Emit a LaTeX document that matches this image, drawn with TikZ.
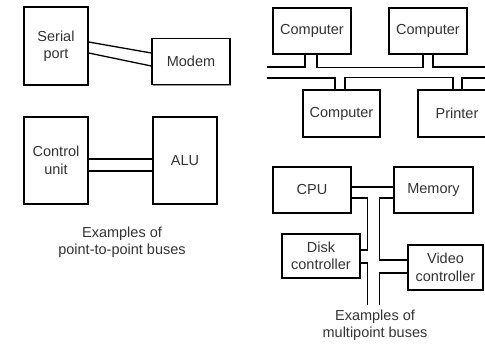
\documentclass[tikz,border=0pt]{standalone}
\usepackage{fontspec}
\setmainfont{Liberation Sans}
\usetikzlibrary{shadows}
\begin{document}
\begin{tikzpicture}[x=1pt,y=-1pt,
  unit/.style={draw=black,line width=1.4pt,fill=white,inner sep=0pt,align=center,
    font=\fontsize{14.5}{17.5}\selectfont,text=black!80,
    drop shadow={shadow xshift=1.3pt,shadow yshift=-1.3pt,fill=black!40,opacity=1}},
  bus/.style={line width=1.3pt,draw=black},
  captext/.style={align=center,font=\fontsize{14.5}{17.5}\selectfont,text=black!80}]
\useasboundingbox (0,0) rectangle (485,346);
\clip (0,0) rectangle (485,346);
% point-to-point
\node[unit,minimum width=64pt,minimum height=78pt] (ser) at (56,46) {Serial\\port};
\node[unit,minimum width=78pt,minimum height=46pt] (mod) at (191,61.5) {Modem};
\node[unit,minimum width=64pt,minimum height=87pt] (cu) at (56,160.5) {Control\\unit};
\node[unit,minimum width=64pt,minimum height=87pt] (alu) at (185,160.5) {ALU};
\draw[bus] ([yshift=4pt]ser.east) -- ([yshift=8.5pt]mod.west);
\draw[bus] ([yshift=-7pt]ser.east) -- ([yshift=-4.5pt]mod.west);
\draw[bus] ([yshift=1.5pt]cu.east) -- ([yshift=1.5pt]alu.west);
\draw[bus] ([yshift=-10.5pt]cu.east) -- ([yshift=-10.5pt]alu.west);
\node[captext] (capA) at (122,242) {Examples of\\point-to-point buses};
% multipoint, computers
\node[unit,minimum width=78pt,minimum height=46pt] (c1) at (312,31) {Computer};
\node[unit,minimum width=78pt,minimum height=46pt] (c2) at (428,31) {Computer};
\node[unit,minimum width=77pt,minimum height=47pt] (c3) at (341.5,113.5) {Computer};
\node[unit,minimum width=78pt,minimum height=47pt] (pr) at (457,113.5) {Printer};
\coordinate (busAl) at (267,67);
\coordinate (busAr) at (495,67);
\coordinate (busBl) at (267,78);
\coordinate (busBr) at (495,78);
\draw[bus] (busAl) -| ([xshift=-7pt]c1.south);
\draw[bus] ([xshift=5pt]c1.south) -- ++(0,13) -| ([xshift=-5pt]c2.south);
\draw[bus] ([xshift=5pt]c2.south) |- (busAr);
\draw[bus] (busBl) -| ([xshift=-6.5pt]c3.north);
\draw[bus] ([xshift=3.5pt]c3.north) -- ++(0,-12) -| ([xshift=-4pt]pr.north);
\draw[bus] ([xshift=5pt]pr.north) |- (busBr);
% multipoint, system bus
\node[unit,minimum width=78pt,minimum height=46pt] (cpu) at (312,190) {CPU};
\node[unit,minimum width=79pt,minimum height=46pt] (mem) at (433.5,190) {Memory};
\node[unit,minimum width=78pt,minimum height=44pt] (disk) at (321,256) {Disk\\controller};
\node[unit,minimum width=75pt,minimum height=45pt] (vid) at (445.5,267.5) {Video\\controller};
\draw[bus] ([yshift=3pt]cpu.east) -- ([yshift=3pt]mem.west);
\draw[bus] ([yshift=-8pt]cpu.east) -| ([xshift=7pt,yshift=6pt]disk.east) -- ([yshift=6pt]disk.east);
\draw[bus] ([yshift=-7pt]disk.east) -- ++(7,0) -- ++(0,42);
\draw[bus] ([yshift=-8pt]mem.west) -| ([xshift=-28pt,yshift=7.5pt]vid.west) -- ([yshift=7.5pt]vid.west);
\draw[bus] ([yshift=-5.5pt]vid.west) -- ++(-28,0) -- ++(0,32);
\node[captext] (capB) at (375,325) {Examples of\\multipoint buses};
\end{tikzpicture}
\end{document}
